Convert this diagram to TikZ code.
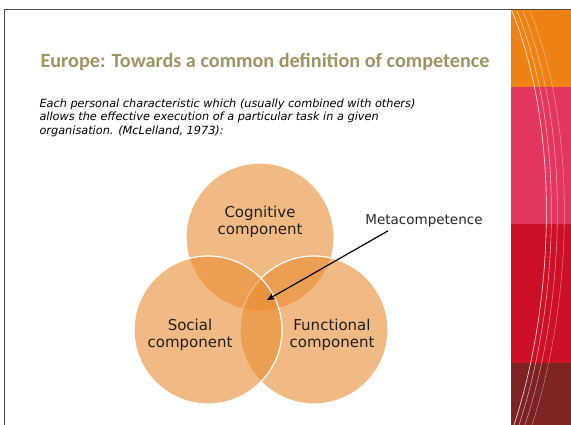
\documentclass[tikz,border=0pt]{standalone}
\usepackage{fontspec}
\setmainfont{DejaVu Sans}
\newfontfamily\titlefont{Carlito}
\usetikzlibrary{arrows.meta}
\definecolor{slidetitle}{RGB}{160,148,98}
\definecolor{ringfill}{RGB}{232,140,50}
\definecolor{bandorange}{RGB}{238,130,20}
\definecolor{bandpink}{RGB}{228,55,95}
\definecolor{bandred}{RGB}{205,15,40}
\definecolor{banddark}{RGB}{125,35,35}

\begin{document}
\begin{tikzpicture}[x=1pt,y=-1pt,
  part/.style={circle,minimum size=148pt,inner sep=0pt,fill=ringfill,fill opacity=.6,draw=white,line width=1.2pt},
  partlabel/.style={align=center,font=\fontsize{15}{17}\selectfont,text=black!88},
  pointer/.style={line width=1.2pt,-{Stealth[length=8pt,width=7pt]}}
]
  \useasboundingbox (0,0) rectangle (571,425);
  % side bands
  \fill[bandorange] (511,10) rectangle (571,87);
  \fill[bandpink] (511,87) rectangle (571,224);
  \fill[bandred] (511,224) rectangle (571,363);
  \fill[banddark] (511,363) rectangle (571,425);
  \foreach \dx/\op in {0/.9,5/.6,11/.5,18/.4}
    \draw[white,opacity=\op,line width=.6pt] (512+\dx,11) .. controls (560+\dx,130) and (555+\dx,300) .. (514+\dx,425);
  \draw[gray!60!black,line width=1pt] (4,425) -- (4,10) -- (571,10);

  \node[anchor=west,text=slidetitle,font=\titlefont\bfseries\fontsize{20.2}{23}\selectfont] (title) at (37,62)
    {Europe: Towards a common definition of competence};
  \node[anchor=north west,align=left,font=\itshape\fontsize{11.3}{13.5}\selectfont] (quote) at (36,95)
    {Each personal characteristic which (usually combined with others)\\
     allows the effective execution of a particular task in a given\\
     organisation. (McLelland, 1973):};

  % the three components
  \node[part] (cognitive) at (260,237) {};
  \node[part] (functional) at (314,330) {};
  \node[part] (social) at (208,330) {};
  \node[partlabel] (cognitivetext) at (260,222) {Cognitive\\component};
  \node[partlabel] (socialtext) at (190,335) {Social\\component};
  \node[partlabel] (functionaltext) at (332,335) {Functional\\component};

  \node[font=\fontsize{13.5}{15}\selectfont,text=black!85] (meta) at (424,221) {Metacompetence};
  \coordinate (core) at (267,300);
  \draw[pointer] ([xshift=-36pt]meta.south) -- (core);
\end{tikzpicture}
\end{document}
